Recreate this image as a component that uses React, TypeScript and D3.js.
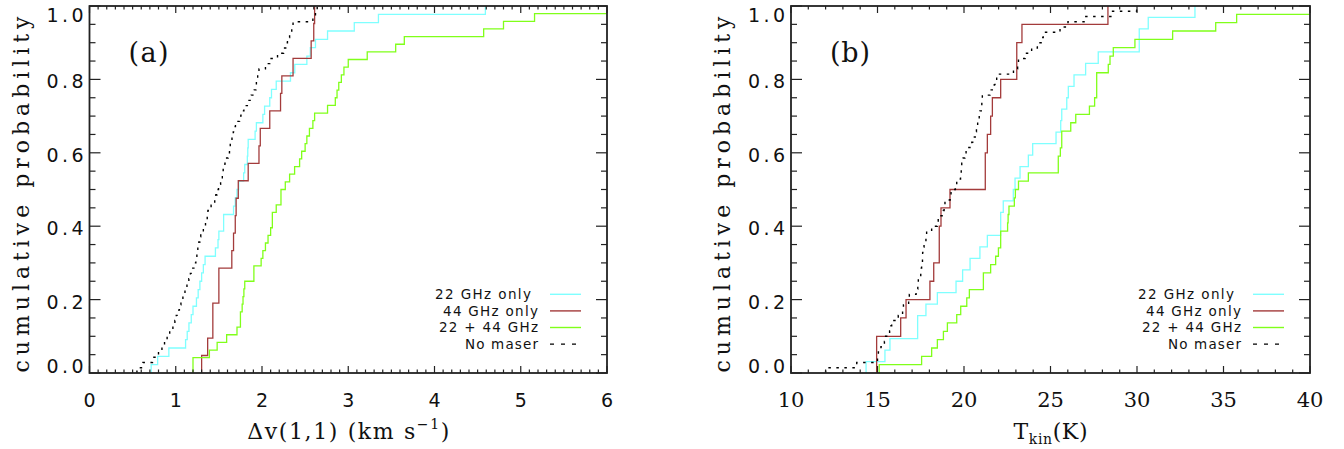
import React from 'react';
import * as d3 from 'd3';

const W = 1344;
const H = 449;

// ---------- Panel (a): Δv(1,1) (km s^-1) sample values, sorted ----------
const dv22Only = [0.715, 0.79, 0.92, 1.114, 1.133, 1.153, 1.18, 1.2, 1.24, 1.26, 1.28, 1.3, 1.32, 1.34, 1.46, 1.49, 1.5, 1.555, 1.555, 1.67, 1.69, 1.71, 1.73, 1.787, 1.8, 1.83, 1.835, 1.84, 1.92, 1.935, 2.01, 2.03, 2.09, 2.11, 2.165, 2.33, 2.38, 2.52, 2.56, 2.62, 2.76, 3.07, 3.35, 4.59];
const dv44Only = [1.3, 1.37, 1.43, 1.43, 1.5, 1.5, 1.65, 1.67, 1.69, 1.7, 1.725, 1.84, 1.965, 1.98, 2.09, 2.215, 2.23, 2.36, 2.57, 2.6, 2.61];
const dvBoth = [1.2, 1.2, 1.39, 1.48, 1.59, 1.71, 1.75, 1.75, 1.77, 1.78, 1.79, 1.8, 1.906, 1.906, 1.99, 2.01, 2.04, 2.07, 2.1, 2.12, 2.12, 2.165, 2.22, 2.22, 2.27, 2.32, 2.378, 2.436, 2.46, 2.5, 2.52, 2.55, 2.59, 2.61, 2.76, 2.85, 2.87, 2.89, 2.92, 2.95, 3.0, 3.22, 3.55, 3.65, 4.57, 4.8, 5.16, 6.3];
const dvNoMaser = [0.55, 0.62, 0.73, 0.8, 0.84, 0.87, 0.9, 0.93, 0.967, 0.99, 1.006, 1.024, 1.042, 1.06, 1.083, 1.107, 1.13, 1.152, 1.17, 1.188, 1.21, 1.233, 1.245, 1.256, 1.268, 1.28, 1.29, 1.32, 1.345, 1.365, 1.373, 1.41, 1.452, 1.465, 1.48, 1.496, 1.52, 1.54, 1.55, 1.57, 1.59, 1.607, 1.623, 1.632, 1.652, 1.667, 1.68, 1.692, 1.74, 1.756, 1.79, 1.84, 1.875, 1.91, 1.93, 1.935, 1.95, 1.965, 2.04, 2.09, 2.18, 2.25, 2.275, 2.295, 2.32, 2.345, 2.36, 2.59, 2.62, 2.64];

// ---------- Panel (b): T_kin (K) sample values, sorted ----------
const tk22Only = [14.34, 15.43, 15.72, 17.32, 17.32, 17.8, 18.46, 19.54, 19.92, 20.35, 20.92, 21.35, 22.12, 22.12, 22.27, 22.85, 22.95, 23.24, 23.72, 23.97, 25.32, 25.59, 25.65, 25.94, 26.03, 26.36, 27.03, 27.76, 30.13, 30.13, 30.65, 33.35];
const tk44Only = [14.95, 14.95, 16.34, 16.65, 18.03, 18.25, 18.57, 18.57, 18.67, 19.19, 21.23, 21.23, 21.35, 21.54, 21.64, 22.12, 23.05, 23.05, 23.35, 28.32];
const tkBoth = [15.1, 17.55, 18.13, 18.46, 18.81, 19.04, 19.58, 19.81, 20.16, 20.31, 21.12, 21.12, 21.54, 21.83, 21.99, 22.12, 22.12, 22.52, 22.55, 22.6, 22.91, 22.97, 23.15, 23.72, 25.45, 25.45, 25.57, 25.65, 25.65, 26.17, 26.46, 27.25, 27.55, 27.67, 27.67, 27.67, 28.34, 28.44, 28.63, 29.88, 32.06, 34.55, 35.76, 41.0];
const tkNoMaser = [12.0, 13.8, 15.0, 15.05, 15.2, 15.4, 15.47, 15.7, 15.78, 15.82, 16.2, 16.45, 16.5, 16.8, 16.84, 17.23, 17.33, 17.36, 17.5, 17.53, 17.55, 17.6, 17.61, 17.67, 17.69, 17.8, 17.84, 18.13, 18.45, 18.51, 18.8, 18.85, 18.9, 19.2, 19.25, 19.5, 19.58, 19.8, 19.84, 19.87, 19.95, 20.05, 20.12, 20.45, 20.55, 20.65, 20.72, 20.79, 20.88, 20.92, 21.0, 21.03, 21.06, 21.5, 21.75, 21.79, 21.89, 22.86, 23.1, 23.15, 23.53, 23.91, 24.24, 24.5, 24.58, 25.55, 26.01, 26.94, 28.54, 29.98];

const seriesNames = ['22 GHz only', '44 GHz only', '22 + 44 GHz', 'No maser'];
const seriesColors = ['#7FFFFF', '#A33B3B', '#80FF1A', '#000000'];
const legendWidths = [96, 95, 99, 73];

const xTicksA = [0, 1, 2, 3, 4, 5, 6];
const xTicksB = [10, 15, 20, 25, 30, 35, 40];
const yTicks = [0, 0.2, 0.4, 0.6, 0.8, 1.0];

type PanelProps = {
  id: string;
  left: number;
  right: number;
  top: number;
  bottom: number;
  domain: [number, number];
  majorTicks: number[];
  minorStep: number;
  samples: number[][];
  label: string;
  xTitle: React.ReactNode;
  xTitleWidth: number;
  xTickFont: string;
  xTickSize: number;
};

function ecdf(vals: number[]): [number, number][] {
  const s = [...vals].sort(d3.ascending);
  const n = s.length;
  const pts: [number, number][] = [];
  s.forEach((v, i) => {
    pts.push([v, i / n]);
    pts.push([v, (i + 1) / n]);
  });
  return pts;
}

const SERIF = 'DejaVu Serif, serif';
const SANS = 'DejaVu Sans, sans-serif';

function Panel(p: PanelProps) {
  const x = d3.scaleLinear().domain(p.domain).range([p.left, p.right]);
  const y = d3.scaleLinear().domain([0, 1]).range([p.bottom, p.top]);
  const line = d3
    .line<[number, number]>()
    .x((d) => x(d[0]))
    .y((d) => y(d[1]));

  const minorX = d3.range(p.domain[0], p.domain[1] + 1e-6, p.minorStep);
  const minorY = d3.range(0, 1.0001, 0.05);
  const isMajorX = (v: number) => p.majorTicks.some((m) => Math.abs(m - v) < 1e-6);
  const isMajorY = (v: number) => Math.abs(v / 0.2 - Math.round(v / 0.2)) < 1e-6;
  const axisColor = '#222';
  const fmt = d3.format('.1f');

  const legendY0 = p.bottom - 78.7;
  const legendStep = 16.6;

  return (
    <g>
      <defs>
        <clipPath id={'clip-' + p.id}>
          <rect x={p.left} y={p.top - 1} width={p.right - p.left} height={p.bottom - p.top + 2} />
        </clipPath>
      </defs>

      {/* series */}
      <g clipPath={`url(#clip-${p.id})`}>
        {p.samples.map((vals, i) => (
          <path
            key={i}
            d={line(ecdf(vals)) || ''}
            fill="none"
            stroke={seriesColors[i]}
            strokeWidth={i === 3 ? 1.4 : 1.3}
            strokeDasharray={i === 3 ? '2.5 5.5' : undefined}
          />
        ))}
      </g>

      {/* x ticks bottom & top */}
      {minorX.map((v, i) => {
        const len = isMajorX(v) ? 7 : 3.5;
        const xx = x(v);
        return (
          <g key={'xt' + i} stroke={axisColor} strokeWidth={1.2}>
            <line x1={xx} x2={xx} y1={p.bottom} y2={p.bottom - len} />
            <line x1={xx} x2={xx} y1={p.top} y2={p.top + len} />
          </g>
        );
      })}
      {/* y ticks left & right */}
      {minorY.map((v, i) => {
        const len = isMajorY(v) ? 11 : 6;
        const yy = y(v);
        return (
          <g key={'yt' + i} stroke={axisColor} strokeWidth={1.2}>
            <line x1={p.left} x2={p.left + len} y1={yy} y2={yy} />
            <line x1={p.right} x2={p.right - len} y1={yy} y2={yy} />
          </g>
        );
      })}

      {/* frame */}
      <rect x={p.left} y={p.top} width={p.right - p.left} height={p.bottom - p.top} fill="none" stroke={axisColor} strokeWidth={1.8} />

      {/* x tick labels */}
      {p.majorTicks.map((v) => (
        <text
          key={'xl' + v}
          x={x(v)}
          y={p.bottom + 27}
          textAnchor="middle"
          dominantBaseline="central"
          fontFamily={p.xTickFont}
          fontSize={p.xTickSize}
          fill="#111"
        >
          {v}
        </text>
      ))}

      {/* y tick labels */}
      {yTicks.map((v) => {
        const yy = v >= 0.999 ? p.top + 9 : v <= 0.001 ? p.bottom - 7 : y(v) + 2;
        return (
          <text
            key={'yl' + v}
            x={p.left - 6}
            y={yy}
            textAnchor="end"
            dominantBaseline="central"
            fontFamily={SANS}
            fontSize={19}
            textLength={37}
            lengthAdjust="spacing"
            fill="#111"
          >
            {fmt(v)}
          </text>
        );
      })}

      {/* y title */}
      <text
        transform={`translate(${p.left - 61},${(p.top + p.bottom) / 2 + 5}) rotate(-90)`}
        textAnchor="middle"
        fontFamily={SERIF}
        fontSize={22}
        textLength={356}
        lengthAdjust="spacing"
        fill="#111"
      >
        cumulative probability
      </text>

      {/* x title */}
      <text
        x={(p.left + p.right) / 2}
        y={p.bottom + 66}
        textAnchor="middle"
        fontFamily={SERIF}
        fontSize={22}
        textLength={p.xTitleWidth}
        lengthAdjust="spacing"
        fill="#111"
      >
        {p.xTitle}
      </text>

      {/* panel label */}
      <text
        x={p.left + 59}
        y={62}
        textAnchor="middle"
        fontFamily={SERIF}
        fontSize={27}
        textLength={40}
        lengthAdjust="spacing"
        fill="#111"
      >
        {p.label}
      </text>

      {/* legend */}
      {seriesNames.map((name, i) => {
        const ly = legendY0 + i * legendStep;
        return (
          <g key={'lg' + i}>
            <text
              x={p.right - 69 - (i === 0 ? 7 : 0)}
              y={ly + 4.6}
              textAnchor="end"
              fontFamily={SANS}
              fontSize={13.5}
              textLength={legendWidths[i]}
              lengthAdjust="spacing"
              fill="#111"
            >
              {name}
            </text>
            <line
              x1={p.right - 57}
              x2={i === 3 ? p.right - 31 : p.right - 26}
              y1={ly}
              y2={ly}
              stroke={seriesColors[i]}
              strokeWidth={1.4}
              strokeDasharray={i === 3 ? '4 7' : undefined}
            />
          </g>
        );
      })}
    </g>
  );
}

export default function App() {
  return (
    <svg
      width={W}
      height={H}
      viewBox={`0 0 ${W} ${H}`}
      style={{ position: 'absolute', left: 0, top: 0, background: '#fff' }}
    >
      <rect x={0} y={0} width={W} height={H} fill="#fff" />
      <Panel
        id="a"
        left={89.5}
        right={607}
        top={6}
        bottom={373}
        domain={[0, 6]}
        majorTicks={xTicksA}
        minorStep={0.1}
        samples={[dv22Only, dv44Only, dvBoth, dvNoMaser]}
        label="(a)"
        xTitleWidth={202}
        xTickFont={SANS}
        xTickSize={19}
        xTitle={
          <>
            <tspan>Δv(1,1) (km s</tspan>
            <tspan fontSize={14} dy={-10}>−1</tspan>
            <tspan dy={10}>)</tspan>
          </>
        }
      />
      <Panel
        id="b"
        left={791}
        right={1310}
        top={6}
        bottom={373}
        domain={[10, 40]}
        majorTicks={xTicksB}
        minorStep={1}
        samples={[tk22Only, tk44Only, tkBoth, tkNoMaser]}
        label="(b)"
        xTitleWidth={74}
        xTickFont={SERIF}
        xTickSize={21}
        xTitle={
          <>
            <tspan>T</tspan>
            <tspan fontSize={14} dy={5}>kin</tspan>
            <tspan dy={-5}>(K)</tspan>
          </>
        }
      />
    </svg>
  );
}
